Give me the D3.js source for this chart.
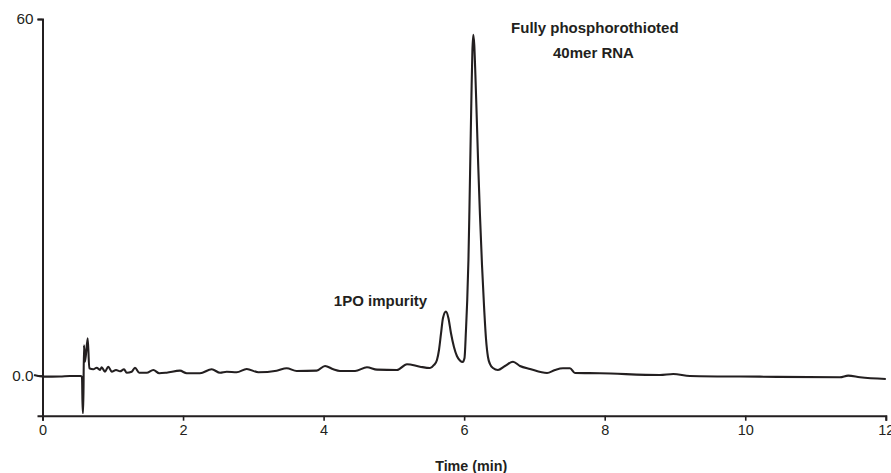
<!DOCTYPE html>
<html>
<head>
<meta charset="utf-8">
<script src="https://cdn.jsdelivr.net/npm/d3@7"></script>
<style>
  html, body { margin: 0; padding: 0; background: #fff; }
  svg { display: block; }
  text { font-family: "Liberation Sans", Arial, Helvetica, sans-serif; fill: #231f20; }
</style>
</head>
<body>
<svg id="chart" width="891" height="473"></svg>
<script>
// ---- Data ----
const timeMin = [
  -0.12, 0.02, 0.25, 0.39, 0.54, 0.562, 0.572, 0.58, 0.59, 0.605, 0.643, 0.666,
  0.723, 0.771, 0.818, 0.842, 0.889, 0.936, 0.985, 1.046, 1.103, 1.16, 1.198,
  1.269, 1.316, 1.377, 1.483, 1.577, 1.662, 1.767, 1.956, 2.052, 2.241, 2.408,
  2.526, 2.621, 2.763, 2.906, 3.071, 3.332, 3.475, 3.617, 3.902, 4.02, 4.138,
  4.233, 4.447, 4.617, 4.76, 5.044, 5.186, 5.371, 5.514, 5.571, 5.613, 5.642,
  5.67, 5.699, 5.741, 5.776, 5.812, 5.855, 5.897, 5.94, 5.979, 6.005, 6.026,
  6.044, 6.061, 6.075, 6.09, 6.104, 6.117, 6.13, 6.144, 6.16, 6.178, 6.2,
  6.225, 6.254, 6.282, 6.31, 6.339, 6.367, 6.41, 6.481, 6.581, 6.695, 6.794,
  6.937, 7.179, 7.293, 7.406, 7.506, 7.577, 7.933, 8.786, 8.976, 9.213,
  10.209, 11.347, 11.465, 11.632, 12.0
];
const signal = [
  0.08, -0.2, -0.17, -0.08, -0.08, -0.25, -6.3, -6.3, 5.1, 2.3, 6.26, 1.21,
  1.04, 1.31, 0.93, 1.38, 0.64, 1.48, 0.64, 0.93, 0.71, 1.04, 0.47,
  0.64, 1.31, 0.47, 0.47, 0.93, 0.37, 0.47, 0.81, 0.37, 0.37, 1.04,
  0.47, 0.64, 0.54, 1.09, 0.54, 0.81, 1.21, 0.76, 0.81, 1.6, 1.04,
  0.76, 0.76, 1.38, 0.98, 0.93, 1.89, 1.48, 1.26, 1.77, 2.61, 4.29,
  6.99, 9.68, 10.74, 9.68, 7.15, 4.8, 3.28, 2.53, 2.27, 2.95, 7.66,
  12.71, 19.44, 27.86, 37.96, 47.22, 54.46, 57.32, 55.64, 50.59, 43.86, 35.44,
  27.02, 18.6, 11.87, 6.31, 3.11, 1.94, 1.26, 0.93, 1.6, 2.32, 1.6,
  1.09, 0.42, 0.93, 1.21, 1.21, 0.42, 0.37, 0.08, 0.25, -0.08,
  -0.2, -0.3, -0.03, -0.3, -0.59
];
const xTicks = [0, 2, 4, 6, 8, 10, 12];
const yTicks = [0, 60];
const yTickLabels = ["0.0", "60"];
const xTitle = "Time (min)";
const annotations = [
  { text: "Fully phosphorothioted", t: 7.86, v: 57.6 },
  { text: "40mer RNA", t: 7.84, v: 53.4 },
  { text: "1PO impurity", t: 4.81, v: 11.7 }
];

// ---- Layout ----
const ink = "#231f20";
const svg = d3.select("#chart");
const x = d3.scaleLinear().domain([0, 12]).range([42.5, 885.8]);
const y = d3.scaleLinear().domain([-6.77, 60]).range([415.7, 19]);

// X axis
const xAxis = d3.axisBottom(x).tickValues(xTicks).tickSize(5).tickPadding(4)
  .tickFormat(d3.format("d"));
const gx = svg.append("g").attr("transform", `translate(0,${y.range()[0]})`).call(xAxis);
gx.select(".domain").attr("stroke", ink).attr("stroke-width", 2);
gx.selectAll(".tick line").attr("stroke", ink).attr("stroke-width", 1.6);
gx.selectAll(".tick text").attr("font-size", 14.5).attr("fill", ink)
  .style("font-family", '"Liberation Sans", Arial, sans-serif');

// Y axis
const yAxis = d3.axisLeft(y).tickValues(yTicks).tickSize(5).tickPadding(4)
  .tickFormat((d, i) => yTickLabels[i]);
const gy = svg.append("g").attr("transform", `translate(${x.range()[0]},0)`).call(yAxis);
gy.select(".domain").attr("stroke", ink).attr("stroke-width", 2);
gy.selectAll(".tick line").attr("stroke", ink).attr("stroke-width", 1.6);
gy.selectAll(".tick text").attr("font-size", 15.3).attr("fill", ink)
  .style("font-family", '"Liberation Sans", Arial, sans-serif');

// Axis title
svg.append("text")
  .attr("x", x(6.1)).attr("y", 471)
  .attr("text-anchor", "middle")
  .attr("font-size", 14.3).attr("font-weight", "bold")
  .text(xTitle);

// Trace
const pts = timeMin.map((t, i) => [t, signal[i]]);
const line = d3.line()
  .x(d => x(d[0])).y(d => y(d[1]))
  .curve(d3.curveMonotoneX);
svg.append("path")
  .datum(pts)
  .attr("d", line)
  .attr("fill", "none")
  .attr("stroke", ink)
  .attr("stroke-width", 2.1)
  .attr("stroke-linejoin", "round");

// Annotations
svg.selectAll("text.ann")
  .data(annotations)
  .enter().append("text")
  .attr("class", "ann")
  .attr("x", d => x(d.t)).attr("y", d => y(d.v))
  .attr("text-anchor", "middle")
  .attr("font-size", 15).attr("font-weight", "bold")
  .text(d => d.text);
</script>
</body>
</html>
